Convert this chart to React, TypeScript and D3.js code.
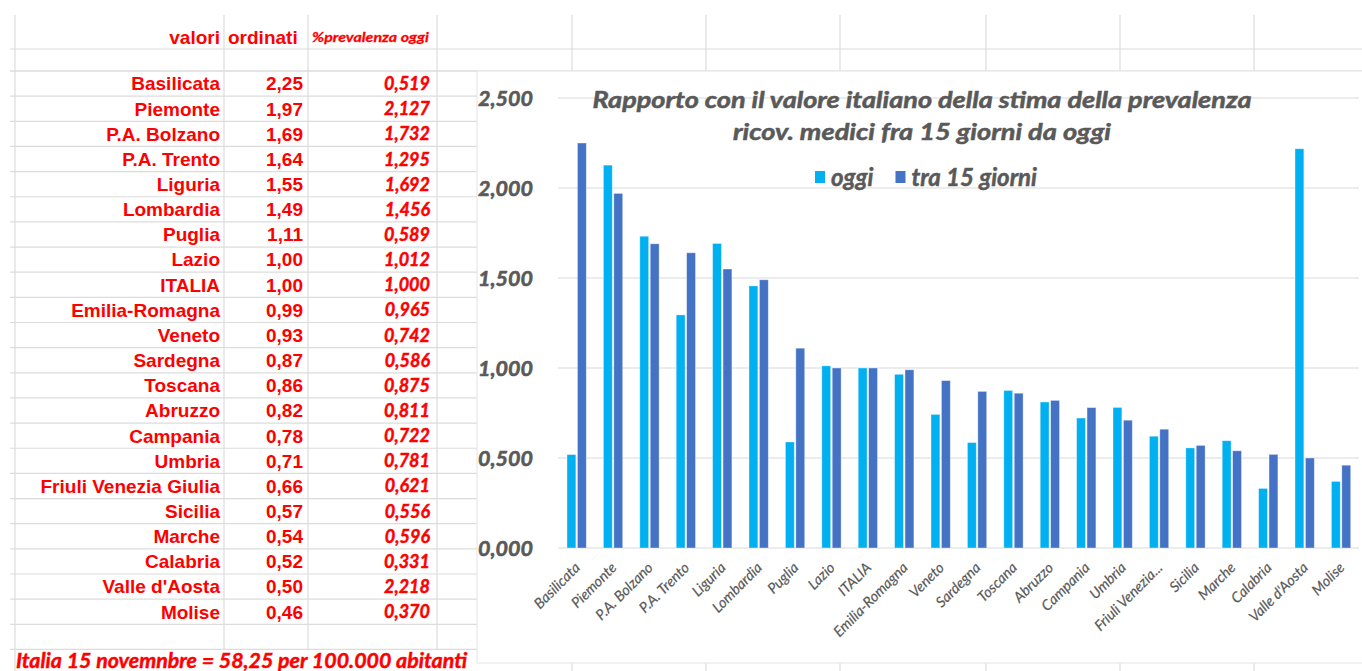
import React, { useEffect, useRef } from 'react';
import * as d3 from 'd3';

// sorted by "valori ordinati" (tra 15 giorni)
const regions = [
  "Basilicata", "Piemonte", "P.A. Bolzano", "P.A. Trento", "Liguria", "Lombardia",
  "Puglia", "Lazio", "ITALIA", "Emilia-Romagna", "Veneto", "Sardegna", "Toscana",
  "Abruzzo", "Campania", "Umbria", "Friuli Venezia Giulia", "Sicilia", "Marche",
  "Calabria", "Valle d'Aosta", "Molise"
];
const traValues = [
  2.25, 1.97, 1.69, 1.64, 1.55, 1.49, 1.11, 1.00, 1.00, 0.99, 0.93, 0.87, 0.86,
  0.82, 0.78, 0.71, 0.66, 0.57, 0.54, 0.52, 0.50, 0.46
];
const oggiValues = [
  0.519, 2.127, 1.732, 1.295, 1.692, 1.456, 0.589, 1.012, 1.000, 0.965, 0.742, 0.586, 0.875,
  0.811, 0.722, 0.781, 0.621, 0.556, 0.596, 0.331, 2.218, 0.370
];
const series = ["oggi", "tra 15 giorni"];
const seriesColors = ["#00b0f0", "#4472c4"];
const yTicks = [0, 0.5, 1, 1.5, 2, 2.5];
const titleLines = [
  "Rapporto con il valore italiano della stima della prevalenza",
  "ricov. medici fra 15 giorni da oggi"
];
const footNote = "Italia 15 novemnbre = 58,25 per 100.000 abitanti";

const W = 1362;
const H = 671;

const itLocale = d3.formatLocale({ decimal: ",", thousands: ".", grouping: [3], currency: ["", "€"] });
const fmt2 = itLocale.format(".2f");
const fmt3 = itLocale.format(".3f");

const RED = "#ff0000";
const GREY = "#595959";
const ARIAL = "'Liberation Sans', Arial, sans-serif";
const CALIBRI = "Lato, 'Open Sans', sans-serif";

// Excel shortens long category names
const shortLabel = (s: string) => (s.length > 18 ? s.slice(0, 14) + "..." : s);

const App: React.FC = () => {
  const svgRef = useRef<SVGSVGElement>(null);

  useEffect(() => {
    if (!svgRef.current) return;
    const svg = d3.select(svgRef.current);
    svg.selectAll("*").remove();

    svg.append("rect").attr("width", W).attr("height", H).attr("fill", "#fff");

    // ---- spreadsheet grid behind everything
    const rowH = 25.15;
    const firstRow = 71;
    const rowLines = d3.range(24).map(k => firstRow + k * rowH);
    const leftCols = [15, 224, 308, 437];
    const rightCols = [572, 706, 840, 986, 1120, 1254];
    const chartBox = { x: 477, y: 71, w: W - 477 + 2, h: 592 };

    const grid = svg.append("g").attr("stroke", "#dcdcdc").attr("stroke-width", 1.2);
    [49, 71].forEach(y => {
      grid.append("line").attr("x1", 10).attr("x2", W).attr("y1", y).attr("y2", y);
    });
    rowLines.forEach(y => {
      grid.append("line").attr("x1", 10).attr("x2", chartBox.x).attr("y1", y).attr("y2", y);
    });
    leftCols.forEach((x, i) => {
      grid.append("line").attr("x1", x).attr("x2", x).attr("y1", 15)
        .attr("y2", i === 0 ? H : rowLines[rowLines.length - 1]);
    });
    rightCols.forEach(x => {
      grid.append("line").attr("x1", x).attr("x2", x).attr("y1", 15).attr("y2", H);
    });

    // ---- table
    const table = svg.append("g").attr("fill", RED).attr("font-weight", "bold");
    table.append("text").attr("x", 220).attr("y", 37).attr("dy", "0.35em")
      .attr("text-anchor", "end").style("font-family", ARIAL).style("font-size", "19px").text("valori");
    table.append("text").attr("x", 228).attr("y", 37).attr("dy", "0.35em")
      .style("font-family", ARIAL).style("font-size", "19px").text("ordinati");
    table.append("text").attr("x", 312).attr("y", 37).attr("dy", "0.35em")
      .style("font-family", CALIBRI).style("font-style", "italic").style("font-size", "14px")
      .attr("stroke", RED).attr("stroke-width", 0.3)
      .attr("textLength", 117).attr("lengthAdjust", "spacingAndGlyphs")
      .text("%prevalenza oggi");

    regions.forEach((r, i) => {
      const cy = firstRow + (i + 0.5) * rowH;
      table.append("text").attr("x", 220).attr("y", cy).attr("dy", "0.36em")
        .attr("text-anchor", "end").style("font-family", ARIAL).style("font-size", "19px").text(r);
      table.append("text").attr("x", 303).attr("y", cy).attr("dy", "0.36em")
        .attr("text-anchor", "end").style("font-family", ARIAL).style("font-size", "19px")
        .text(fmt2(traValues[i]));
      table.append("text").attr("x", 430).attr("y", cy).attr("dy", "0.36em")
        .attr("text-anchor", "end").style("font-family", CALIBRI).style("font-style", "italic")
        .style("font-size", "18px").attr("stroke", RED).attr("stroke-width", 0.45)
        .text(fmt3(oggiValues[i]));
    });

    table.append("text").attr("x", 16).attr("y", 660).attr("dy", "0.36em")
      .style("font-family", CALIBRI).style("font-style", "italic").style("font-size", "21px")
      .attr("stroke", RED).attr("stroke-width", 0.45)
      .attr("textLength", 451).attr("lengthAdjust", "spacingAndGlyphs")
      .text(footNote);

    // ---- chart box
    svg.append("rect")
      .attr("x", chartBox.x).attr("y", chartBox.y)
      .attr("width", chartBox.w).attr("height", chartBox.h)
      .attr("fill", "#fff").attr("stroke", "#e4e4e4").attr("stroke-width", 1);

    const x = d3.scaleBand<string>().domain(regions).range([558.3, 1359.1]);
    const xs = d3.scaleBand<string>().domain(series).range([-9.5, 9.8]).paddingInner(0.15);
    const y = d3.scaleLinear().domain([0, 2.5]).range([548, 98]);

    const chart = svg.append("g");

    chart.append("g").selectAll("line").data(yTicks).join("line")
      .attr("x1", 558).attr("x2", 1359)
      .attr("y1", d => y(d)).attr("y2", d => y(d))
      .attr("stroke", "#d9d9d9").attr("stroke-width", 1.2);

    chart.append("g").selectAll("text").data(yTicks).join("text")
      .attr("x", 533).attr("y", d => y(d)).attr("dy", "0.36em")
      .attr("text-anchor", "end")
      .style("font-family", CALIBRI).style("font-style", "italic").style("font-weight", "bold")
      .style("font-size", "21.5px").attr("fill", GREY)
      .attr("stroke", GREY).attr("stroke-width", 0.6)
      .text(d => fmt3(d));

    const barData = regions.flatMap((r, i) => [
      { region: r, key: series[0], value: oggiValues[i], color: seriesColors[0] },
      { region: r, key: series[1], value: traValues[i], color: seriesColors[1] }
    ]);

    chart.append("g").selectAll("rect").data(barData).join("rect")
      .attr("x", d => (x(d.region) ?? 0) + x.bandwidth() / 2 + (xs(d.key) ?? 0))
      .attr("width", xs.bandwidth())
      .attr("y", d => y(d.value))
      .attr("height", d => y(0) - y(d.value))
      .attr("fill", d => d.color)
      .attr("stroke", "#ffffff").attr("stroke-opacity", 0.45).attr("stroke-width", 0.8);

    chart.append("g").selectAll("text").data(regions).join("text")
      .attr("transform", d => `translate(${(x(d) ?? 0) + x.bandwidth() / 2 + 1},565) rotate(-45)`)
      .attr("dy", "0.35em")
      .attr("text-anchor", "end")
      .style("font-family", CALIBRI).style("font-style", "italic")
      .style("font-size", "14.5px").attr("fill", GREY)
      .attr("stroke", GREY).attr("stroke-width", 0.2)
      .text(d => shortLabel(d));

    // title
    const titleLens = [659, 378];
    titleLines.forEach((t, i) => {
      chart.append("text")
        .attr("x", 922).attr("y", 100 + i * 32).attr("dy", "0.36em")
        .attr("text-anchor", "middle")
        .style("font-family", CALIBRI).style("font-style", "italic").style("font-weight", "bold")
        .style("font-size", "22px").attr("fill", GREY)
        .attr("stroke", GREY).attr("stroke-width", 0.5)
        .attr("textLength", titleLens[i]).attr("lengthAdjust", "spacingAndGlyphs")
        .text(t);
    });

    // legend
    const legend = chart.append("g");
    let cursor = 0;
    series.forEach((s, i) => {
      const item = legend.append("g").attr("transform", `translate(${cursor},0)`);
      item.append("rect").attr("x", 0).attr("y", -6).attr("width", 10).attr("height", 12)
        .attr("fill", seriesColors[i]);
      const label = item.append("text").attr("x", 16).attr("dy", "0.36em")
        .style("font-family", CALIBRI).style("font-style", "italic").style("font-weight", "bold")
        .style("font-size", "24px").attr("fill", GREY)
        .attr("stroke", GREY).attr("stroke-width", 0.5)
        .text(s);
      const tw = (label.node() as SVGTextElement).getComputedTextLength();
      cursor += 16 + tw + 22;
    });
    const legendWidth = cursor - 22;
    legend.attr("transform", `translate(${926 - legendWidth / 2},177)`);
  }, []);

  return (
    <svg
      ref={svgRef}
      width={W}
      height={H}
      style={{ position: 'absolute', left: 0, top: 0, display: 'block' }}
    />
  );
};

export default App;
